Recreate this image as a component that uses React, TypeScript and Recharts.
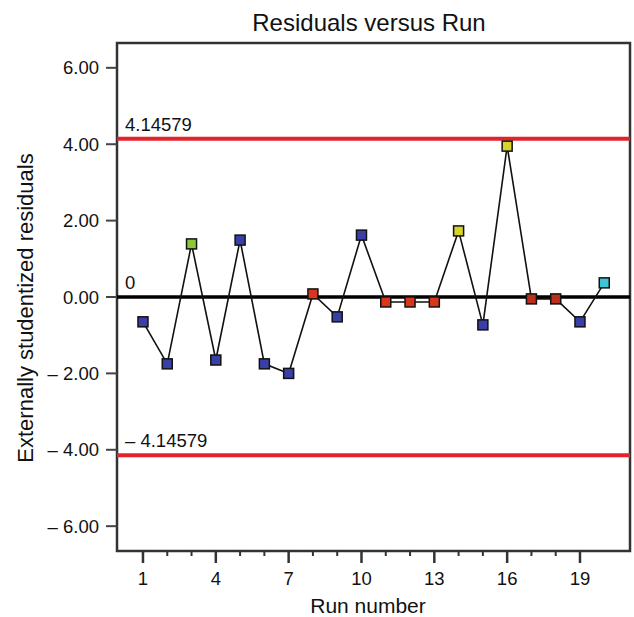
import React from 'react'
import { LineChart, Line, XAxis, YAxis, ReferenceLine, ReferenceArea } from 'recharts'

const runs = [1, 2, 3, 4, 5, 6, 7, 8, 9, 10, 11, 12, 13, 14, 15, 16, 17, 18, 19, 20]
const residuals = [-0.65, -1.75, 1.39, -1.65, 1.49, -1.75, -2.0, 0.08, -0.52, 1.62, -0.13, -0.13, -0.13, 1.73, -0.73, 3.95, -0.05, -0.05, -0.65, 0.37]
const pointColors = [
  '#3a3fa8', '#3a3fa8', '#8cc63f', '#3a3fa8', '#3a3fa8', '#3a3fa8', '#3a3fa8', '#d9361e', '#3a3fa8', '#3a3fa8',
  '#d9361e', '#d9361e', '#d9361e', '#d6d32a', '#3a3fa8', '#d6d32a', '#b8301e', '#b8301e', '#3a3fa8', '#3fc6d6',
]
const xTicks = [1, 2, 3, 4, 5, 6, 7, 8, 9, 10, 11, 12, 13, 14, 15, 16, 17, 18, 19]
const yTicks = [-6, -4, -2, 0, 2, 4, 6]
const limit = 4.14579

const data = runs.map((run, i) => ({ run, r: residuals[i], color: pointColors[i] }))

const X_DOMAIN = [-0.07, 21.06]
const Y_DOMAIN = [-6.65, 6.65]
const FONT = '"Liberation Sans", Arial, Helvetica, sans-serif'

const fmtY = (v: number) => (v < 0 ? `\u2013 ${Math.abs(v).toFixed(2)}` : v.toFixed(2))

function RunTick(props: any) {
  const { x, y, payload } = props
  const major = (payload.value - 1) % 3 === 0
  return (
    <g>
      <line x1={x} x2={x} y1={y} y2={y + (major ? 12 : 5)} stroke="#333" strokeWidth={major ? 2.5 : 2} />
      {major && (
        <text x={x} y={y + 34} textAnchor="middle" fontSize={18.5} fill="#111" fontFamily={FONT}>
          {payload.value}
        </text>
      )}
    </g>
  )
}

function SquareDot(props: any) {
  const { cx, cy, payload } = props
  if (cx == null || cy == null) return null
  return <rect x={cx - 5} y={cy - 5} width={10} height={10} fill={payload.color} stroke="#111" strokeWidth={1.5} />
}

function lineLabel(text: string) {
  return (props: any) => {
    const { viewBox } = props
    return (
      <text x={viewBox.x + 8} y={viewBox.y - 8} fontSize={18.5} fill="#111" fontFamily={FONT}>
        {text}
      </text>
    )
  }
}

export default function App() {
  return (
    <div style={{ position: 'absolute', top: 0, left: 0, width: 634, height: 617, background: '#fff', fontFamily: FONT }}>
      <LineChart width={634} height={617} data={data} margin={{ top: 43, right: 4, left: 0, bottom: 0 }}>
        <XAxis
          dataKey="run"
          type="number"
          domain={X_DOMAIN}
          ticks={xTicks}
          axisLine={false}
          tickLine={false}
          tickSize={0}
          tickMargin={0}
          height={66}
          tick={<RunTick />}
          interval={0}
        />
        <YAxis
          type="number"
          domain={Y_DOMAIN}
          ticks={yTicks}
          width={117}
          axisLine={false}
          tickLine={{ stroke: '#444', strokeWidth: 2 }}
          tickSize={11}
          tickMargin={7}
          tickFormatter={fmtY}
          tick={{ fontSize: 18.5, fill: '#111', fontFamily: FONT }}
          interval={0}
        />
        <ReferenceArea
          x1={X_DOMAIN[0]}
          x2={X_DOMAIN[1]}
          y1={Y_DOMAIN[0]}
          y2={Y_DOMAIN[1]}
          fill="none"
          fillOpacity={0}
          stroke="#333"
          strokeWidth={2.5}
          ifOverflow="visible"
        />
        <ReferenceLine y={limit} stroke="#e3232b" strokeWidth={4} label={lineLabel(String(limit))} />
        <ReferenceLine y={0} stroke="#000" strokeWidth={3.5} label={lineLabel('0')} />
        <ReferenceLine y={-limit} stroke="#e3232b" strokeWidth={4} label={lineLabel(`\u2013 ${limit}`)} />
        <Line
          type="linear"
          dataKey="r"
          stroke="#111"
          strokeWidth={1.6}
          dot={<SquareDot />}
          activeDot={false}
          isAnimationActive={false}
        />
      </LineChart>
      <svg width={634} height={617} style={{ position: 'absolute', top: 0, left: 0, pointerEvents: 'none' }}>
        <text x={369} y={31} textAnchor="middle" fontSize={24} fill="#111" fontFamily={FONT}>
          Residuals versus Run
        </text>
        <text x={368} y={613} textAnchor="middle" fontSize={21} fill="#111" fontFamily={FONT}>
          Run number
        </text>
        <text x={33} y={308} transform="rotate(-90 33 308)" textAnchor="middle" fontSize={22} fill="#111" fontFamily={FONT}>
          Externally studentized residuals
        </text>
      </svg>
    </div>
  )
}
